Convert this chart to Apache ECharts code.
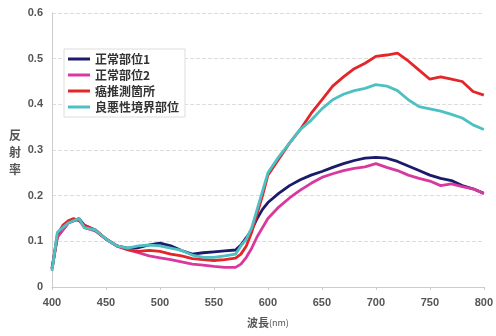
<!DOCTYPE html>
<html><head><meta charset="utf-8">
<script src="https://cdn.jsdelivr.net/npm/echarts@6/dist/echarts.min.js"></script>
<style>html,body{margin:0;padding:0;background:#fff}#c{width:496px;height:336px}</style>
</head><body><div id="c"></div>
<script>
const wavelengths = [400,405,410,415,420,425,430,440,450,460,470,480,490,500,510,520,530,540,550,560,570,575,580,585,590,595,600,610,620,630,640,650,660,670,680,690,700,710,720,730,740,750,760,770,780,790,800];
const seriesNames = ['正常部位1','正常部位2','癌推測箇所','良悪性境界部位'];
const normal1 = [.04,.11,.125,.14,.145,.15,.135,.125,.105,.09,.085,.086,.092,.096,.09,.08,.072,.075,.077,.079,.081,.092,.108,.125,.15,.17,.185,.205,.222,.235,.245,.253,.262,.27,.277,.282,.284,.282,.275,.265,.255,.245,.238,.233,.222,.215,.205];
const normal2 = [.04,.11,.125,.14,.145,.148,.13,.123,.105,.09,.082,.075,.068,.064,.06,.055,.05,.048,.045,.043,.043,.05,.065,.085,.11,.13,.15,.175,.195,.212,.227,.24,.248,.255,.26,.263,.27,.262,.255,.245,.238,.232,.222,.226,.22,.215,.205];
const cancer = [.04,.115,.135,.145,.15,.145,.135,.125,.105,.09,.082,.078,.08,.078,.072,.068,.062,.06,.058,.06,.063,.072,.09,.12,.16,.2,.245,.28,.315,.345,.38,.41,.44,.46,.478,.49,.505,.508,.512,.495,.475,.455,.46,.455,.45,.428,.42];
const border = [.035,.12,.13,.14,.145,.15,.13,.125,.105,.09,.085,.09,.092,.09,.085,.08,.07,.065,.065,.068,.072,.09,.105,.13,.17,.21,.25,.285,.315,.345,.365,.39,.41,.422,.43,.435,.443,.44,.43,.41,.395,.39,.385,.378,.37,.355,.345];
const colors = ['#1c1a6b','#d8399f','#e2262a','#4cc0c2'];
const values = [normal1, normal2, cancer, border];

const chart = echarts.init(document.getElementById('c'));
chart.setOption({
  animation: false,
  grid: {left: 52, right: 8, top: 13, bottom: 49},
  legend: {
    orient: 'vertical', left: 64, top: 49,
    data: seriesNames,
    backgroundColor: '#fff', borderColor: '#ddd', borderWidth: 1,
    padding: [4, 6, 4, 4], itemGap: 4, itemWidth: 22, itemHeight: 10,
    textStyle: {fontSize: 12, color: '#333', fontFamily: 'Noto Sans CJK JP', fontWeight: 'bold'},
    icon: 'path://M0,3.5 L22,3.5 L22,6.5 L0,6.5 Z'
  },
  xAxis: {
    type: 'value', min: 400, max: 800, interval: 50,
    axisLine: {lineStyle: {color: '#ccc'}},
    axisTick: {show: true, length: 3, lineStyle: {color: '#ccc'}},
    splitLine: {show: false},
    axisLabel: {color: '#555', fontSize: 11, fontWeight: 'bold', margin: 10, fontFamily: 'Liberation Sans'},
    name: '{a|波長}{b|(nm)}', nameLocation: 'middle', nameGap: 30,
    nameTextStyle: {rich: {a: {fontSize: 11, color: '#555', fontFamily: 'Noto Sans CJK JP', fontWeight: 'bold'}, b: {fontSize: 9, color: '#555', fontFamily: 'Noto Sans CJK JP'}}}
  },
  yAxis: {
    type: 'value', min: 0, max: 0.6, interval: 0.1,
    axisLine: {show: true, lineStyle: {color: '#ccc'}},
    axisTick: {show: false},
    splitLine: {lineStyle: {color: '#ddd', type: [4, 2]}},
    axisLabel: {color: '#555', fontSize: 11, fontWeight: 'bold', margin: 9, fontFamily: 'Liberation Sans'}
  },
  graphic: [{
    type: 'text', left: 9, top: 127,
    style: {text: '反\n射\n率', fontSize: 12, lineHeight: 17, fill: '#555', fontFamily: 'Noto Sans CJK JP', fontWeight: 'bold'}
  }],
  series: seriesNames.map((n, i) => ({
    name: n, type: 'line', showSymbol: false, symbol: 'none',
    data: wavelengths.map((w, j) => [w, values[i][j]]),
    lineStyle: {width: 2.8, color: colors[i]}, itemStyle: {color: colors[i]}
  }))
});
</script></body></html>
